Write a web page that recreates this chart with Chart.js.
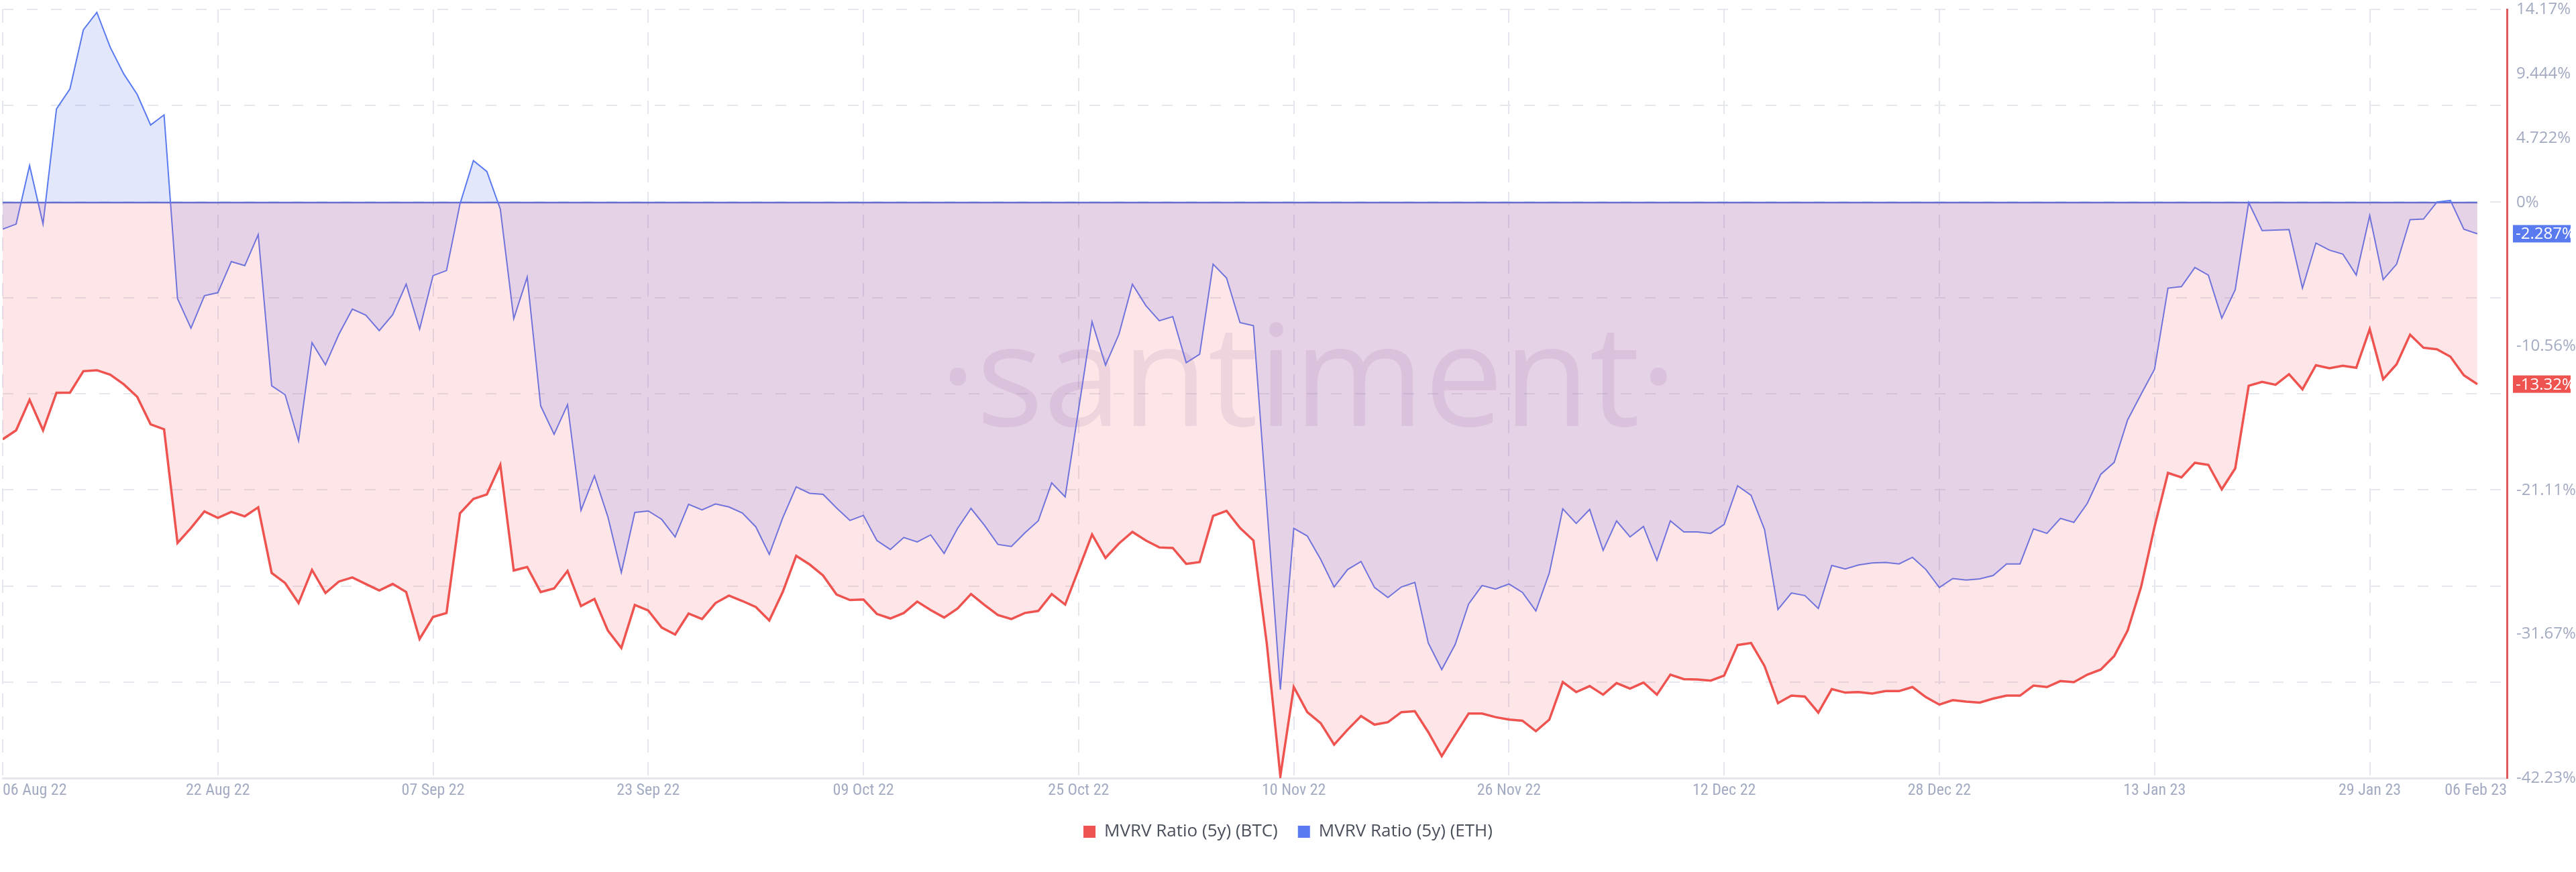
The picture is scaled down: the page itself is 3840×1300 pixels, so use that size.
<!DOCTYPE html>
<html><head><meta charset="utf-8">
<script src="https://cdn.jsdelivr.net/npm/chart.js@4"></script>
<style>html,body{margin:0;padding:0;background:#fff}#wrap{width:3840px;height:1300px;position:relative}</style>
</head><body><div id="wrap"><canvas id="c"></canvas></div>
<script>
const xTickDays = [0,16,32,48,64,80,96,112,128,144,160,176,186.2];
const xTickLabels = ["06 Aug 22","22 Aug 22","07 Sep 22","23 Sep 22","09 Oct 22","25 Oct 22","10 Nov 22","26 Nov 22","12 Dec 22","28 Dec 22","13 Jan 23","29 Jan 23","06 Feb 23"];
const yTickValues = [14.17,9.444,4.722,0,-10.56,-21.11,-31.67,-42.23];
const yTickLabels = ["14.17%","9.444%","4.722%","0%","-10.56%","-21.11%","-31.67%","-42.23%"];
const yGridValues = [14.17,7.12,0.07,-6.98,-14.03,-21.08,-28.13,-35.18,-42.23];

const ethValues = [-1.95,-1.58,2.72,-1.58,6.87,8.34,12.67,13.95,11.38,9.44,7.93,5.69,6.43,-7.05,-9.22,-6.83,-6.61,-4.33,-4.63,-2.35,
-13.44,-14.10,-17.48,-10.28,-11.90,-9.66,-7.82,-8.26,-9.40,-8.23,-5.99,-9.29,-5.36,-4.99,-0.11,3.08,2.28,-0.48,-8.52,-5.47,
-14.91,-17.00,-14.83,-22.58,-20.05,-23.06,-27.14,-22.73,-22.62,-23.24,-24.53,-22.14,-22.55,-22.11,-22.33,-22.77,-23.79,-25.81,-23.13,-20.86,
-21.33,-21.41,-22.40,-23.32,-22.95,-24.79,-25.45,-24.57,-24.90,-24.38,-25.74,-23.90,-22.44,-23.68,-25.08,-25.23,-24.24,-23.35,-20.56,-21.59,
-15.17,-8.74,-11.93,-9.66,-5.99,-7.56,-8.67,-8.37,-11.75,-11.13,-4.52,-5.54,-8.81,-9.03,-22.33,-35.73,-23.90,-24.46,-26.18,-28.20,
-26.92,-26.33,-28.24,-28.97,-28.20,-27.87,-32.31,-34.26,-32.42,-29.45,-28.09,-28.35,-27.98,-28.60,-29.96,-27.17,-22.47,-23.54,-22.51,-25.52,
-23.35,-24.53,-23.76,-26.25,-23.35,-24.16,-24.16,-24.27,-23.61,-20.78,-21.48,-23.98,-29.85,-28.64,-28.83,-29.78,-26.62,-26.88,-26.59,-26.44,
-26.40,-26.51,-26.03,-26.92,-28.24,-27.58,-27.69,-27.61,-27.36,-26.51,-26.51,-23.94,-24.27,-23.17,-23.46,-22.07,-19.94,-19.06,-15.94,-14.06,
-12.23,-6.28,-6.17,-4.77,-5.32,-8.48,-6.39,0,-2.06,-2.02,-1.98,-6.28,-2.97,-3.49,-3.78,-5.32,-0.95,-5.65,-4.52,-1.25,
-1.21,0.04,0.15,-1.95,-2.287];
const btcValues = [-17.37,-16.71,-14.47,-16.71,-13.95,-13.95,-12.37,-12.30,-12.63,-13.33,-14.25,-16.27,-16.63,-24.97,-23.87,-22.66,-23.13,-22.69,-23.02,-22.36,
-27.17,-27.91,-29.38,-26.95,-28.64,-27.80,-27.50,-27.98,-28.46,-27.98,-28.57,-32.02,-30.40,-30.11,-22.80,-21.74,-21.41,-19.24,-26.99,-26.73,
-28.57,-28.31,-27.03,-29.60,-29.08,-31.40,-32.68,-29.52,-29.93,-31.18,-31.69,-30.15,-30.55,-29.38,-28.83,-29.23,-29.67,-30.66,-28.57,-25.92,
-26.55,-27.36,-28.75,-29.16,-29.12,-30.18,-30.51,-30.11,-29.27,-29.89,-30.44,-29.78,-28.72,-29.52,-30.26,-30.55,-30.11,-29.96,-28.72,-29.49,
-26.92,-24.35,-26.07,-25.01,-24.16,-24.79,-25.30,-25.34,-26.51,-26.37,-22.99,-22.62,-23.87,-24.79,-32.42,-42.08,-35.54,-37.38,-38.19,-39.77,
-38.67,-37.67,-38.30,-38.12,-37.38,-37.31,-38.85,-40.61,-39.03,-37.49,-37.49,-37.75,-37.93,-38.01,-38.78,-37.93,-35.18,-35.91,-35.47,-36.10,
-35.25,-35.66,-35.21,-36.10,-34.63,-34.96,-34.99,-35.07,-34.70,-32.46,-32.31,-34.00,-36.72,-36.17,-36.24,-37.42,-35.69,-35.95,-35.91,-36.02,
-35.84,-35.84,-35.54,-36.28,-36.83,-36.50,-36.61,-36.68,-36.39,-36.17,-36.17,-35.43,-35.54,-35.10,-35.18,-34.63,-34.26,-33.27,-31.40,-28.20,
-23.79,-19.83,-20.16,-19.09,-19.24,-21.04,-19.50,-13.44,-13.15,-13.37,-12.59,-13.70,-11.93,-12.15,-11.97,-12.12,-9.29,-12.96,-11.86,-9.69,
-10.65,-10.76,-11.31,-12.67,-13.32];
const zeroLine = ethValues.map(() => 0);

const toPts = arr => arr.map((v,i)=>({x:i,y:v}));
const BTC = '#ef5350', ETH = '#5a7af0';

const overlay = {
  id:'overlay',
  beforeDatasetsDraw(chart){
    const {ctx} = chart;
    ctx.save();
    ctx.font = '400 210px "Open Sans", sans-serif';
    ctx.fillStyle = 'rgba(120,95,170,0.13)';
    ctx.textAlign='center'; ctx.textBaseline='middle';
    ctx.fillText('·santiment·', 1950, 575);
    ctx.restore();
  },
  afterDraw(chart){
    const {ctx} = chart; const y = chart.scales.y;
    const tags = [[ethValues[ethValues.length-1], ETH, '-2.287%'],[btcValues[btcValues.length-1], BTC, '-13.32%']];
    ctx.save();
    ctx.font = '24px "Open Sans", sans-serif';
    ctx.textBaseline='middle'; ctx.textAlign='left';
    for (const [v,c,t] of tags){
      const py = y.getPixelForValue(v);
      ctx.fillStyle = c; ctx.fillRect(3746, py-13, 86, 26);
      ctx.fillStyle = '#fff'; ctx.fillText(t, 3750, py+1);
    }
    ctx.restore();
  }
};

new Chart(document.getElementById('c'), {
  type:'line',
  data:{datasets:[
    {label:'MVRV Ratio (5y) (BTC)', data:toPts(btcValues), borderColor:BTC, backgroundColor:'rgba(245,80,90,0.14)', borderWidth:3.5, fill:'origin', pointRadius:0, tension:0},
    {label:'MVRV Ratio (5y) (ETH)', data:toPts(ethValues), borderColor:ETH, backgroundColor:'rgba(90,115,235,0.17)', borderWidth:2, fill:'origin', pointRadius:0, tension:0},
    {label:'zero', data:toPts(zeroLine), borderColor:'#5a72d8', borderWidth:2.5, fill:false, pointRadius:0}
  ]},
  options:{
    responsive:true, maintainAspectRatio:false, animation:false, devicePixelRatio:1,
    events:[],
    layout:{padding:{top:14,left:0,right:0,bottom:37}},
    plugins:{
      tooltip:{enabled:false},
      legend:{position:'bottom', labels:{boxWidth:18, boxHeight:18, padding:30, color:'#4a4f5c', font:{size:26, family:'"Open Sans", sans-serif'},
        generateLabels(chart){ return chart.data.datasets.slice(0,2).map((d,i)=>({text:d.label, fillStyle:d.borderColor, strokeStyle:d.borderColor, lineWidth:0, datasetIndex:i, fontColor:'#4a4f5c'})); }}}
    },
    scales:{
      x:{type:'linear', min:0, max:186.2,
        afterBuildTicks(s){ s.ticks = xTickDays.map(v=>({value:v})); },
        ticks:{align:'inner', autoSkip:false, maxRotation:0, color:'#a3abc2', padding:4, font:{size:24, family:'"Liberation Sans Narrow","Roboto Condensed",Roboto,sans-serif'},
          callback:(v)=>xTickLabels[xTickDays.indexOf(v)]},
        grid:{color:(c)=> c.index===xTickDays.length-1 ? 'rgba(0,0,0,0)' : '#e4e6ee', lineWidth:2, drawTicks:false},
        border:{display:true, color:'#e3e6ec', width:3, dash:[20,14]}
      },
      y:{position:'right', min:-42.23, max:14.17,
        afterBuildTicks(s){ s.ticks = yTickValues.map(v=>({value:v})); },
        afterFit(s){ s.width = 103; s.paddingTop = 0; s.paddingBottom = 0; },
        ticks:{autoSkip:false, color:'#a3abc2', padding:14, font:{size:24, family:'"Open Sans", sans-serif'},
          callback:(v)=>yTickLabels[yTickValues.indexOf(v)]},
        grid:{display:false, drawTicks:false},
        border:{display:true, color:'#e05a5a', width:3}
      },
      y2:{position:'right', display:true, min:-42.23, max:14.17,
        afterBuildTicks(s){ s.ticks = yGridValues.map(v=>({value:v})); },
        afterFit(s){ s.width = 0; },
        ticks:{display:false},
        grid:{color:'#e6e8ef', lineWidth:2, drawTicks:false},
        border:{display:false, dash:[16,20]}
      }
    }
  },
  plugins:[overlay]
});
</script></body></html>
